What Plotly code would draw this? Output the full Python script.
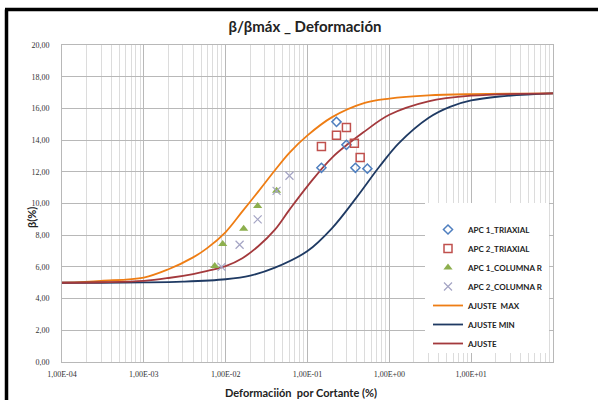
import plotly.graph_objects as go

# ---- data ----
apc1_tri_x = [0.148, 0.226, 0.299, 0.385, 0.539]
apc1_tri_y = [12.25, 15.15, 13.7, 12.25, 12.2]
apc2_tri_x = [0.148, 0.226, 0.299, 0.374, 0.44]
apc2_tri_y = [13.6, 14.3, 14.8, 13.8, 12.9]
apc1_col_x = [0.00735, 0.0092, 0.0166, 0.0246, 0.0419]
apc1_col_y = [6.06, 7.44, 8.4, 9.85, 10.8]
apc2_col_x = [0.00893, 0.0148, 0.0246, 0.0419, 0.0602]
apc2_col_y = [6.0, 7.4, 9.0, 10.8, 11.75]

curve_x = [1e-4, 3e-4, 1e-3, 2e-3, 4e-3, 6e-3, 1e-2, 1.6e-2, 2.5e-2, 4e-2, 6e-2,
           0.1, 0.2, 0.5, 1, 3, 10, 100]
max_y = [5.0, 5.12, 5.33, 5.85, 6.6, 7.2, 8.2, 9.5, 10.75, 12.1, 13.2,
         14.3, 15.45, 16.35, 16.62, 16.82, 16.9, 16.95]
fit_y = [5.0, 5.03, 5.12, 5.3, 5.55, 5.75, 6.05, 6.55, 7.3, 8.35, 9.6,
         11.1, 12.9, 14.55, 15.6, 16.45, 16.8, 16.95]
min_x = [1e-4, 3e-4, 1e-3, 3e-3, 1e-2, 2e-2, 4e-2, 0.1, 0.2, 0.4, 0.75, 1.3,
         3, 5.5, 10, 22, 100]
min_y = [5.0, 5.0, 5.02, 5.07, 5.22, 5.45, 5.95, 7.0, 8.45, 10.4, 12.3, 13.8,
         15.4, 16.1, 16.5, 16.75, 16.95]

x_tickvals = [1e-4, 1e-3, 1e-2, 1e-1, 1e0, 1e1]
x_ticktext = ["1,00E-04", "1,00E-03", "1,00E-02", "1,00E-01", "1,00E+00", "1,00E+01"]

# ---- geometry (px) ----
W, H = 598, 400
L, R, T, B = 62, 553, 45, 362


def px(xp):
    return (xp - L) / (R - L)


def py(yp):
    return (B - yp) / (B - T)


fig = go.Figure()

# lines
fig.add_trace(go.Scatter(x=curve_x, y=max_y, mode="lines", name="<b>AJUSTE  MAX</b>",
                         line=dict(color="#EE7D14", width=1.8, shape="spline"),
                         legendrank=5))
fig.add_trace(go.Scatter(x=min_x, y=min_y, mode="lines", name="<b>AJUSTE MIN</b>",
                         line=dict(color="#1F3A63", width=1.8, shape="spline"),
                         legendrank=6))
fig.add_trace(go.Scatter(x=curve_x, y=fit_y, mode="lines", name="<b>AJUSTE</b>",
                         line=dict(color="#A3393C", width=1.8, shape="spline"),
                         legendrank=7))

# markers
fig.add_trace(go.Scatter(x=apc1_tri_x, y=apc1_tri_y, mode="markers", name="<b>APC 1_TRIAXIAL</b>",
                         marker=dict(symbol="diamond-open", size=7, color="#4F7FBF",
                                     line=dict(width=1.5)),
                         legendrank=1))
fig.add_trace(go.Scatter(x=apc2_tri_x, y=apc2_tri_y, mode="markers", name="<b>APC 2_TRIAXIAL</b>",
                         marker=dict(symbol="square-open", size=8, color="#C0504D",
                                     line=dict(width=1.5)),
                         legendrank=2))
fig.add_trace(go.Scatter(x=apc1_col_x, y=apc1_col_y, mode="markers", name="<b>APC 1_COLUMNA R</b>",
                         marker=dict(symbol="triangle-up", size=8, color="#8DAF4E"),
                         legendrank=3))
fig.add_trace(go.Scatter(x=apc2_col_x, y=apc2_col_y, mode="markers", name="<b>APC 2_COLUMNA R</b>",
                         marker=dict(symbol="x-thin-open", size=8, color="#A4A4C4",
                                     line=dict(width=1.2, color="#A4A4C4")),
                         legendrank=4))

shapes = [
    # legend background
    dict(type="rect", xref="paper", yref="paper", x0=px(425), x1=px(549), y0=py(353), y1=py(203),
         fillcolor="white", line=dict(width=0), layer="above"),
    # black frame (left + top)
    dict(type="line", xref="paper", yref="paper", x0=px(6.5), x1=px(6.5), y0=py(9.5), y1=py(410),
         line=dict(color="black", width=3.5)),
    dict(type="line", xref="paper", yref="paper", x0=px(5), x1=px(610), y0=py(9.5), y1=py(9.5),
         line=dict(color="black", width=3.5)),
]

annotations = [
    dict(text="<b>β(%)</b>", xref="paper", yref="paper", x=px(32), y=py(218), showarrow=False,
         xanchor="center", yanchor="middle",
         textangle=-90, font=dict(family="Lato", size=11, color="#222")),
    dict(text="<b>Deformaciión  por Cortante (%)</b>", xref="paper", yref="paper",
         x=px(301), y=py(392), showarrow=False, xanchor="center", yanchor="middle",
         font=dict(family="Lato", size=11, color="#222")),
]

fig.update_layout(
    width=W, height=H,
    margin=dict(l=L, r=W - R, t=T, b=H - B),
    paper_bgcolor="white", plot_bgcolor="white",
    separators=",.",
    title=dict(text="<b>β/βmáx _ Deformación</b>", x=305 / W, xanchor="center",
               y=1 - 27 / H, yanchor="middle", yref="container",
               font=dict(family="Lato", size=15, color="#222")),
    showlegend=True,
    legend=dict(x=px(428), y=py(215), xanchor="left", yanchor="top",
                bgcolor="rgba(0,0,0,0)", borderwidth=0,
                font=dict(family="Lato", size=8, color="#222"),
                tracegroupgap=0, itemwidth=30, traceorder="normal"),
    shapes=shapes,
    annotations=annotations,
)

fig.update_xaxes(type="log", range=[-4, 2], tickvals=x_tickvals, ticktext=x_ticktext,
                 showgrid=True, gridcolor="#b8b8b8", gridwidth=1,
                 minor=dict(dtick="D1", showgrid=True, gridcolor="#dcdcdc", gridwidth=1),
                 showline=True, mirror=True, linecolor="#b8b8b8", linewidth=1,
                 ticks="", zeroline=False, ticklabelstandoff=4,
                 tickfont=dict(family="Liberation Serif", size=8, color="#333"))
fig.update_yaxes(range=[0, 20], dtick=2, tickformat=".2f",
                 showgrid=True, gridcolor="#b8b8b8", gridwidth=1,
                 showline=True, mirror=True, linecolor="#b8b8b8", linewidth=1,
                 ticks="", zeroline=False, ticklabelstandoff=10,
                 tickfont=dict(family="Liberation Serif", size=8, color="#333"))

fig.write_html("out.html")
